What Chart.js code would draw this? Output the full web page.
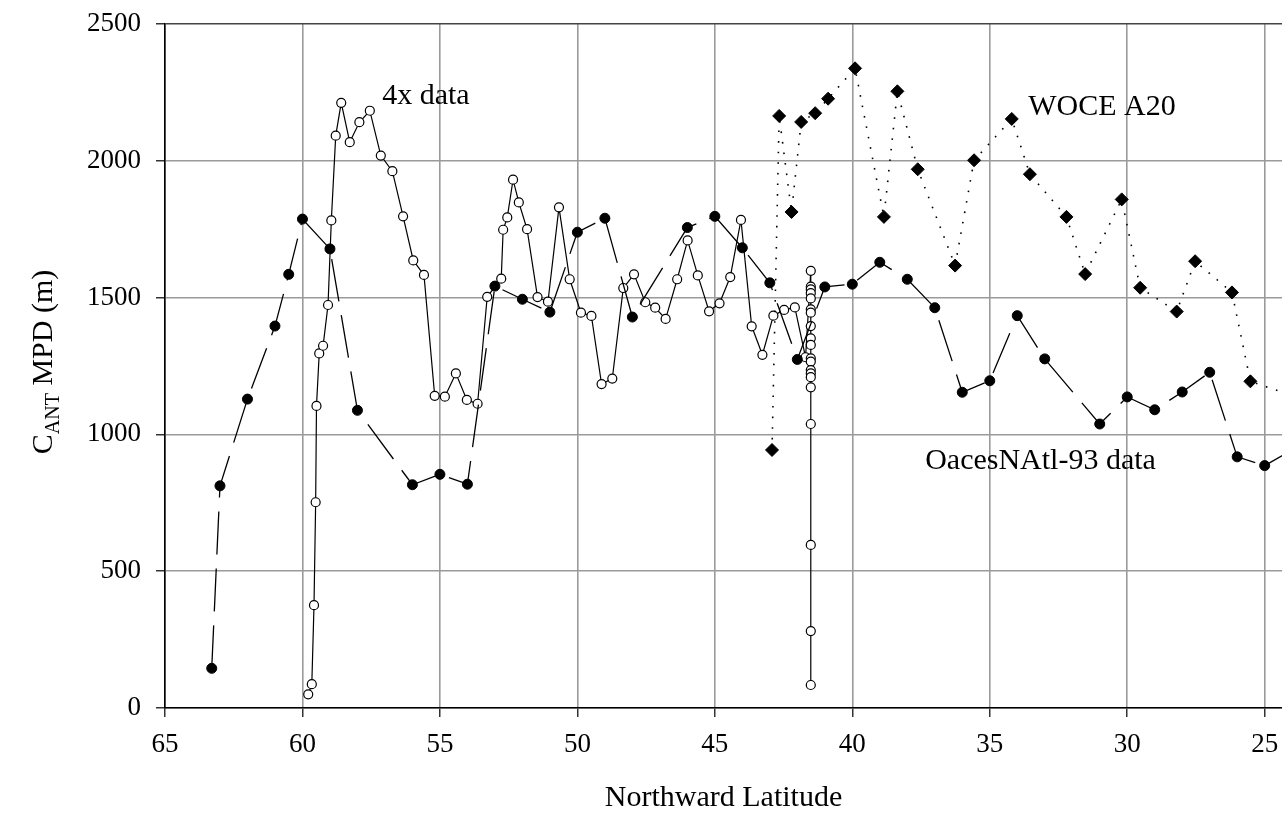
<!DOCTYPE html>
<html>
<head>
<meta charset="utf-8">
<script src="https://cdn.jsdelivr.net/npm/chart.js@4/dist/chart.umd.min.js"></script>
<style>
  html, body { margin: 0; padding: 0; background: #fff; }
  #wrap { width: 1282px; height: 820px; }
</style>
</head>
<body>
<div id="wrap"><canvas id="cantChart"></canvas></div>
<script>
// 4x data (open circles, solid line)
const fourXLat = [59.79, 59.66, 59.58, 59.52, 59.49, 59.39, 59.25, 59.07, 58.95, 58.79,
    58.59, 58.28, 57.93, 57.55, 57.15, 56.73, 56.34, 55.97, 55.58, 55.19,
    54.82, 54.42, 54.02, 53.63, 53.28, 52.77, 52.70, 52.55, 52.34, 52.13,
    51.83, 51.45, 51.07, 50.67, 50.28, 49.87, 49.49, 49.12, 48.73, 48.33,
    47.94, 47.53, 47.17, 46.79, 46.37, 45.99, 45.62, 45.21, 44.83, 44.44,
    44.05, 43.66, 43.27, 42.87, 42.48, 42.09, 41.70,
    41.51, 41.51, 41.51, 41.51, 41.51, 41.51, 41.51, 41.51, 41.51, 41.51,
    41.51, 41.51, 41.51, 41.51, 41.51, 41.51, 41.51, 41.51, 41.51, 41.51];
const fourXVal = [50, 87, 376, 752, 1104, 1296, 1324, 1473, 1782, 2092,
    2212, 2068, 2141, 2183, 2019, 1962, 1797, 1636, 1583, 1141,
    1138, 1223, 1126, 1112, 1503, 1569, 1748, 1793, 1931, 1848,
    1750, 1502, 1485, 1830, 1567, 1445, 1433, 1184, 1204, 1535,
    1585, 1483, 1463, 1422, 1567, 1709, 1581, 1450, 1479, 1575,
    1784, 1395, 1291, 1434, 1455, 1464, 1282,
    1598, 1540, 1530, 1516, 1497, 1457, 1445, 1396, 1351, 1327,
    1278, 1266, 1235, 1223, 1209, 1172, 1038, 596, 281, 84];

// OacesNAtl-93 data (filled circles, dashed line)
const oacesLat = [63.3, 63, 62, 61, 60.5, 60, 59, 58, 56, 55, 54, 53, 52, 51, 50, 49, 48,
    46, 45, 44, 43, 42, 41, 40, 39, 38, 37, 36, 35, 34, 33, 31, 30, 29, 28, 27, 26, 25, 23.8];
const oacesVal = [145, 812, 1129, 1396, 1585, 1787, 1678, 1088, 816, 854, 818, 1542, 1494, 1447, 1739, 1790, 1429,
    1756, 1797, 1682, 1554, 1274, 1539, 1549, 1629, 1567, 1463, 1154, 1196, 1434, 1276, 1038, 1137, 1090, 1155, 1227, 918, 886, 955];

// WOCE A20 (filled diamonds, dotted line)
const woceLat = [42.92, 42.66, 42.21, 41.86, 41.35, 40.88, 39.90, 38.85, 38.36, 37.62, 36.26, 35.57,
    34.20, 33.54, 32.21, 31.53, 30.20, 29.53, 28.20, 27.53, 26.19, 25.52, 23.8];
const woceVal = [943, 2164, 1813, 2142, 2174, 2227, 2338, 1795, 2254, 1969, 1617, 2002,
    2153, 1951, 1795, 1586, 1859, 1536, 1449, 1633, 1519, 1194, 1135];

const xTicks = [65, 60, 55, 50, 45, 40, 35, 30, 25];
const yTicks = [0, 500, 1000, 1500, 2000, 2500];

const toPoints = (xs, ys) => xs.map((x, i) => ({ x: x, y: ys[i] }));

const SERIF = "'Liberation Serif', 'DejaVu Serif', serif";

// 曲线上的文字标注
const notesPlugin = {
    id: 'notes',
    afterDatasetsDraw(chart) {
        const { ctx, scales } = chart;
        const notes = [
            { text: '4x data', x: 57.1, y: 2208 },
            { text: 'WOCE A20', x: 33.6, y: 2167 },
            { text: 'OacesNAtl-93 data', x: 37.35, y: 874 }
        ];
        ctx.save();
        ctx.font = '30px ' + SERIF;
        ctx.fillStyle = '#000';
        ctx.textAlign = 'left';
        ctx.textBaseline = 'alphabetic';
        notes.forEach(n => {
            ctx.fillText(n.text, scales.x.getPixelForValue(n.x), scales.y.getPixelForValue(n.y));
        });
        ctx.restore();
    }
};

// y轴标题带下标 C_ANT
const yTitlePlugin = {
    id: 'yTitle',
    afterDraw(chart) {
        const { ctx, chartArea } = chart;
        const cy = (chartArea.top + chartArea.bottom) / 2 - 4;
        ctx.save();
        ctx.translate(42, cy);
        ctx.rotate(-Math.PI / 2);
        ctx.fillStyle = '#000';
        ctx.textBaseline = 'alphabetic';
        const big = '30px ' + SERIF;
        const small = '20px ' + SERIF;
        ctx.font = big;
        const wC = ctx.measureText('C').width;
        const wRest = ctx.measureText(' MPD (m)').width;
        ctx.font = small;
        const wSub = ctx.measureText('ANT').width;
        let x = -(wC + wSub + wRest) / 2;
        ctx.font = big;
        ctx.fillText('C', x, 10);
        x += wC;
        ctx.font = small;
        ctx.fillText('ANT', x, 17);
        x += wSub;
        ctx.font = big;
        ctx.fillText(' MPD (m)', x, 10);
        ctx.restore();
    }
};

const ctx = document.getElementById('cantChart').getContext('2d');
new Chart(ctx, {
    type: 'scatter',
    data: {
        datasets: [
            {
                label: 'OacesNAtl-93 data',
                data: toPoints(oacesLat, oacesVal),
                showLine: true,
                borderColor: '#000',
                borderWidth: 1.3,
                borderDash: [43, 14],
                pointStyle: 'circle',
                pointRadius: 5,
                pointBackgroundColor: '#000',
                pointBorderColor: '#000',
                pointBorderWidth: 1,
                order: 1
            },
            {
                label: 'WOCE A20',
                data: toPoints(woceLat, woceVal),
                showLine: true,
                borderColor: '#000',
                borderWidth: 1.6,
                borderDash: [1.6, 9],
                pointStyle: 'rectRot',
                pointRadius: 6.5,
                pointBackgroundColor: '#000',
                pointBorderColor: '#000',
                pointBorderWidth: 1,
                order: 2
            },
            {
                label: '4x data',
                data: toPoints(fourXLat, fourXVal),
                showLine: true,
                borderColor: '#000',
                borderWidth: 1.2,
                pointStyle: 'circle',
                pointRadius: 4.5,
                pointBackgroundColor: '#fff',
                pointBorderColor: '#000',
                pointBorderWidth: 1.2,
                order: 3
            }
        ]
    },
    options: {
        responsive: true,
        maintainAspectRatio: false,
        animation: false,
        layout: { autoPadding: false, padding: { top: 24, left: 0, right: 0, bottom: 0 } },
        plugins: {
            legend: { display: false },
            tooltip: { enabled: false }
        },
        scales: {
            x: {
                type: 'linear',
                reverse: true,
                min: 24.37,
                max: 65,
                afterFit: (scale) => {
                    scale.height = 112;
                    scale.paddingLeft = 0;
                    scale.paddingRight = 0;
                },
                afterBuildTicks: (scale) => {
                    scale.ticks = xTicks.map(v => ({ value: v }));
                },
                ticks: {
                    stepSize: 5,
                    includeBounds: false,
                    color: '#000',
                    padding: 12,
                    font: { family: SERIF, size: 27 }
                },
                grid: {
                    color: '#9a9a9a',
                    lineWidth: 1.6,
                    tickColor: '#000',
                    tickLength: 9,
                    tickWidth: 1.2
                },
                border: { display: true, color: '#000', width: 1.6 },
                title: {
                    display: true,
                    text: 'Northward Latitude',
                    color: '#000',
                    padding: { top: 22 },
                    font: { family: SERIF, size: 30 }
                }
            },
            y: {
                min: 0,
                max: 2500,
                afterFit: (scale) => {
                    scale.width = 165;
                    scale.paddingTop = 0;
                    scale.paddingBottom = 0;
                },
                afterBuildTicks: (scale) => {
                    scale.ticks = yTicks.map(v => ({ value: v }));
                },
                ticks: {
                    color: '#000',
                    padding: 15,
                    font: { family: SERIF, size: 27 },
                    callback: (v) => String(v)
                },
                grid: {
                    color: (c) => (c.tick && c.tick.value === 2500 ? '#444' : '#9a9a9a'),
                    lineWidth: 1.6,
                    tickColor: '#000',
                    tickLength: 9,
                    tickWidth: 1.2
                },
                border: { display: true, color: '#000', width: 1.6 }
            }
        }
    },
    plugins: [notesPlugin, yTitlePlugin]
});
</script>
</body>
</html>
